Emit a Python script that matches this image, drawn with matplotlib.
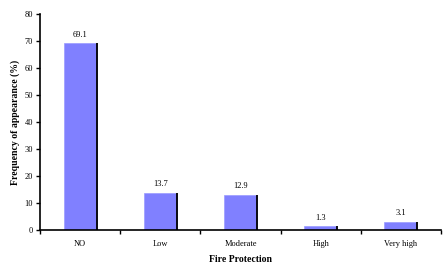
import matplotlib
matplotlib.use("Agg")
import matplotlib.pyplot as plt
import numpy as np

categories = ["NO", "Low", "Moderate", "High", "Very high"]
values = [69.1, 13.7, 12.9, 1.3, 3.1]
yticks = [0, 10, 20, 30, 40, 50, 60, 70, 80]

plt.rcParams['font.family'] = ['Liberation Serif', 'DejaVu Serif']

fig = plt.figure(figsize=(4.48, 2.75), dpi=100)
ax = fig.add_axes([40/448, 45/275, 401/448, 216/275])

x = np.arange(len(categories))
bars = ax.bar(x, values, width=0.41, color="#8080FF", edgecolor="#9a9aff", linewidth=0.5, zorder=2)
for b in bars:
    xr = b.get_x() + b.get_width()
    ax.plot([xr, xr], [0, b.get_height()], color="black", linewidth=1.3, zorder=3,
            solid_capstyle="butt")
for xi, v in zip(x, values):
    ax.text(xi, v + 1.8, f"{v}", ha="center", va="bottom", fontsize=6)

ax.set_xlim(-0.5, len(categories) - 0.5)
ax.set_ylim(0, 80)
ax.set_yticks(yticks)
ax.set_yticklabels([str(t) for t in yticks], fontsize=6)
ax.set_xticks(np.arange(-0.5, len(categories)), minor=False)
ax.set_xticklabels([])
ax.set_xticks(x, minor=True)
ax.set_xticklabels(categories, minor=True, fontsize=6)
ax.tick_params(axis="x", which="minor", length=0, pad=7)
ax.tick_params(axis="x", which="major", length=3, direction="out", width=1)
ax.tick_params(axis="y", length=3, direction="out", width=1, pad=2)

for s in ["top", "right"]:
    ax.spines[s].set_visible(False)
for s in ["left", "bottom"]:
    ax.spines[s].set_linewidth(1.2)
    ax.spines[s].set_zorder(4)

ax.set_xlabel("Fire Protection", fontsize=7, fontweight="bold", labelpad=5)
ax.set_ylabel("Frequency of appearance (%)", fontsize=7, fontweight="bold", labelpad=3)

fig.savefig("out.png", dpi=100)
